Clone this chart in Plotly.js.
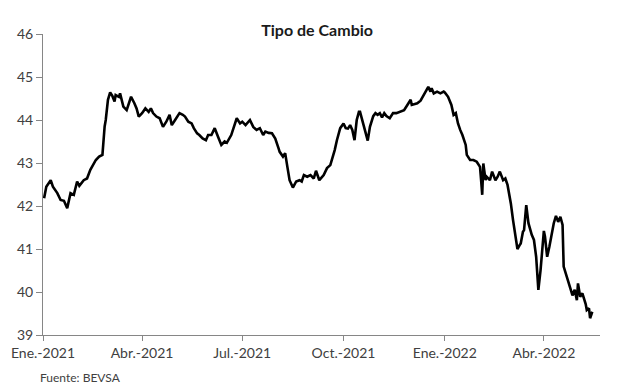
<!DOCTYPE html>
<html>
<head>
<meta charset="utf-8">
<script src="https://cdn.plot.ly/plotly-3.0.1.min.js"></script>
<style>html,body{margin:0;padding:0;background:#fff;}#chart{width:617px;height:388px;}</style>
</head>
<body>
<div id="chart"></div>
<script>
const dates = [
"2021-01-02","2021-01-04","2021-01-08","2021-01-10","2021-01-14","2021-01-17","2021-01-20","2021-01-23","2021-01-26","2021-01-29",
"2021-02-01","2021-02-03","2021-02-07","2021-02-10","2021-02-13","2021-02-16","2021-02-18","2021-02-21","2021-02-24","2021-02-26",
"2021-02-27","2021-03-01","2021-03-03","2021-03-05","2021-03-07","2021-03-08","2021-03-11","2021-03-12","2021-03-15","2021-03-18",
"2021-03-22","2021-03-25","2021-03-27","2021-03-29","2021-04-01","2021-04-04","2021-04-07","2021-04-09","2021-04-11","2021-04-14",
"2021-04-17","2021-04-20","2021-04-23","2021-04-26","2021-04-28","2021-05-01","2021-05-05","2021-05-08","2021-05-10","2021-05-13",
"2021-05-16","2021-05-18","2021-05-21","2021-05-23","2021-05-26","2021-05-29","2021-05-31","2021-06-03","2021-06-06","2021-06-09",
"2021-06-12","2021-06-15","2021-06-17","2021-06-21","2021-06-23","2021-06-26","2021-06-29","2021-07-01","2021-07-04","2021-07-08",
"2021-07-11","2021-07-14","2021-07-17","2021-07-20","2021-07-22","2021-07-25","2021-07-28","2021-07-31","2021-08-03","2021-08-04",
"2021-08-07","2021-08-09","2021-08-11","2021-08-13","2021-08-16","2021-08-19","2021-08-22","2021-08-24","2021-08-26","2021-08-29",
"2021-09-01","2021-09-04","2021-09-06","2021-09-09","2021-09-13","2021-09-16","2021-09-19","2021-09-21","2021-09-23","2021-09-25",
"2021-09-28","2021-10-01","2021-10-03","2021-10-05","2021-10-07","2021-10-09","2021-10-11","2021-10-13","2021-10-15","2021-10-16",
"2021-10-18","2021-10-21","2021-10-23","2021-10-25","2021-10-28","2021-10-30","2021-11-01","2021-11-03","2021-11-05","2021-11-07",
"2021-11-09","2021-11-12","2021-11-15","2021-11-18","2021-11-21","2021-11-25","2021-11-28","2021-12-01","2021-12-02","2021-12-07",
"2021-12-10","2021-12-13","2021-12-15","2021-12-17","2021-12-19","2021-12-20","2021-12-22","2021-12-25","2021-12-28","2021-12-31",
"2022-01-01","2022-01-04","2022-01-07","2022-01-09","2022-01-11","2022-01-13","2022-01-15","2022-01-17","2022-01-20","2022-01-21",
"2022-01-24","2022-01-27","2022-01-30","2022-02-02","2022-02-03","2022-02-04","2022-02-05","2022-02-07","2022-02-08","2022-02-11",
"2022-02-13","2022-02-16","2022-02-18","2022-02-20","2022-02-23","2022-02-25","2022-02-27","2022-03-02","2022-03-04","2022-03-06",
"2022-03-08","2022-03-10","2022-03-11","2022-03-13","2022-03-14","2022-03-16","2022-03-18","2022-03-21","2022-03-23","2022-03-25",
"2022-03-27","2022-03-29","2022-04-01","2022-04-02","2022-04-04","2022-04-06","2022-04-08","2022-04-10","2022-04-12","2022-04-14",
"2022-04-16","2022-04-18","2022-04-19","2022-04-22","2022-04-25","2022-04-27","2022-04-29","2022-05-01","2022-05-02","2022-05-04",
"2022-05-06","2022-05-09","2022-05-10","2022-05-12","2022-05-13","2022-05-15"
];
const rate = [
42.18,42.45,42.60,42.45,42.30,42.14,42.12,41.95,42.30,42.26,
42.57,42.47,42.60,42.64,42.84,42.99,43.07,43.15,43.19,43.85,
44.00,44.47,44.64,44.56,44.43,44.58,44.54,44.62,44.31,44.23,
44.54,44.39,44.27,44.08,44.16,44.27,44.19,44.27,44.16,44.08,
44.04,43.84,43.96,44.12,43.88,44.00,44.16,44.12,44.08,43.96,
43.92,43.81,43.69,43.65,43.57,43.53,43.65,43.65,43.81,43.61,
43.42,43.50,43.47,43.65,43.81,44.04,43.92,43.96,43.88,44.00,
43.84,43.77,43.81,43.65,43.73,43.70,43.69,43.57,43.34,43.26,
43.15,43.23,42.91,42.60,42.43,42.57,42.60,42.57,42.72,42.68,
42.72,42.64,42.82,42.60,42.72,42.88,42.95,43.11,43.30,43.53,
43.81,43.92,43.81,43.80,43.88,43.77,43.53,44.00,44.19,44.19,
44.00,43.69,43.52,43.84,44.09,44.16,44.12,44.16,44.06,44.16,
44.09,44.04,44.16,44.16,44.19,44.23,44.35,44.47,44.35,44.39,
44.45,44.58,44.66,44.77,44.66,44.74,44.62,44.66,44.62,44.66,
44.64,44.54,44.35,44.12,44.16,43.92,43.77,43.65,43.42,43.19,
43.07,43.07,43.03,42.91,42.60,42.26,42.99,42.60,42.68,42.60,
42.80,42.60,42.68,42.80,42.60,42.64,42.49,42.06,41.67,41.33,
41.00,41.09,41.13,41.40,41.44,42.02,41.60,41.33,41.21,40.82,
40.05,40.51,41.42,41.29,40.82,41.05,41.37,41.60,41.77,41.63,
41.75,41.56,40.59,40.36,40.09,39.92,40.05,39.81,40.20,39.89,
39.97,39.72,39.58,39.62,39.39,39.54
];
const tickDates = ["2021-01-01","2021-04-01","2021-07-01","2021-10-01","2022-01-01","2022-04-01"];
const tickLabels = ["Ene.-2021","Abr.-2021","Jul.-2021","Oct.-2021","Ene.-2022","Abr.-2022"];
const yTicks = [39,40,41,42,43,44,45,46];

const font = "Lato, 'Open Sans', sans-serif";
const trace = {
  x: dates, y: rate, type: "scatter", mode: "lines",
  line: {color: "#000000", width: 2.6},
  hoverinfo: "skip"
};
const layout = {
  width: 617, height: 388,
  margin: {l: 43, r: 17, t: 34, b: 53},
  paper_bgcolor: "#ffffff", plot_bgcolor: "#ffffff",
  showlegend: false,
  font: {family: font, color: "#404040", size: 14},
  title: {
    text: "<b>Tipo de Cambio</b>",
    font: {family: font, size: 16, color: "#1a1a1a"},
    xref: "container", yref: "container",
    x: 0.514, y: 0.922, xanchor: "center", yanchor: "middle"
  },
  xaxis: {
    type: "date",
    range: ["2021-01-01", "2022-05-22"],
    tickmode: "array", tickvals: tickDates, ticktext: tickLabels,
    ticks: "outside", ticklen: 5, tickcolor: "#868686", tickwidth: 1,
    showline: true, linecolor: "#868686", linewidth: 1,
    showgrid: false, zeroline: false,
    tickfont: {family: font, size: 14, color: "#404040"}
  },
  yaxis: {
    range: [39, 46],
    tickmode: "array", tickvals: yTicks, ticktext: yTicks.map(String),
    ticks: "outside", ticklen: 6, tickcolor: "#868686", tickwidth: 1,
    showline: true, linecolor: "#868686", linewidth: 1,
    showgrid: false, zeroline: false,
    tickfont: {family: font, size: 14, color: "#404040"}
  },
  annotations: [{
    text: "Fuente: BEVSA",
    xref: "paper", yref: "paper",
    x: -0.009, y: 0, yshift: -42,
    xanchor: "left", yanchor: "middle",
    showarrow: false,
    font: {family: font, size: 12, color: "#404040"}
  }]
};
Plotly.newPlot("chart", [trace], layout, {displayModeBar: false, staticPlot: true});
</script>
</body>
</html>
